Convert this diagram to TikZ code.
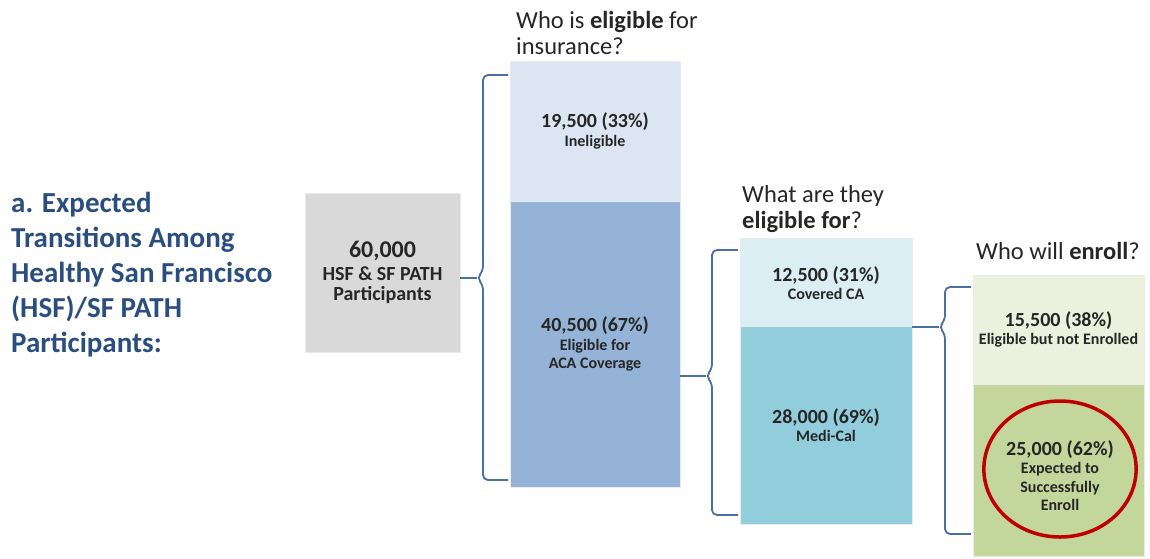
\documentclass[tikz,border=0pt]{standalone}
\usepackage{fontspec}
\setmainfont{Carlito}
\usetikzlibrary{calc,shapes.geometric}
\definecolor{titleblue}{HTML}{2A4E80}
\definecolor{txt}{HTML}{262626}
\definecolor{bracecol}{HTML}{4A6FA5}
\definecolor{grayfill}{HTML}{D9D9D9}
\definecolor{b1top}{HTML}{DCE6F2}
\definecolor{b1bot}{HTML}{95B3D7}
\definecolor{b2top}{HTML}{DAEEF3}
\definecolor{b2bot}{HTML}{92CDDC}
\definecolor{b3top}{HTML}{EBF1DE}
\definecolor{b3bot}{HTML}{C3D69B}
\definecolor{ringred}{HTML}{C00000}
\tikzset{
  box/.style={rectangle, draw=white!92!black, line width=0.8pt, inner sep=0pt, align=center, text=txt, font=\bfseries\fontsize{16}{18.5}\selectfont},
  brace/.style={draw=bracecol, line width=1.8pt, rounded corners=5pt},
  head/.style={anchor=north west, inner sep=0pt, align=left, text=black!85, font=\fontsize{24.5}{26}\selectfont},
}
\newcommand{\numf}{\fontsize{20}{18.5}\selectfont}
\newcommand{\subf}{\fontsize{16}{18.5}\selectfont}
\begin{document}
\begin{tikzpicture}[x=1pt,y=-1pt]
\useasboundingbox (0,0) rectangle (1150,558);
% title
\node[anchor=north west, inner sep=0pt, align=left, text=titleblue, font=\bfseries\fontsize{29}{35}\selectfont] (title) at (11,192)
  {a. Expected\\Transitions Among\\Healthy San Francisco\\(HSF)/SF PATH\\Participants:};
% boxes
\node[box, fill=grayfill, minimum width=155pt, minimum height=159pt, font=\bfseries\fontsize{20}{20}\selectfont] (gray) at (382.5,272.5)
  {{\fontsize{24}{20}\selectfont 60,000}\\[3pt]HSF \& SF PATH\\Participants};
\node[box, fill=b1top, minimum width=170pt, minimum height=140pt] (b1t) at (595,131)
  {\numf 19,500 (33\%)\\\subf Ineligible};
\node[box, fill=b1bot, minimum width=170pt, minimum height=286pt] (b1b) at (595,344)
  {\numf 40,500 (67\%)\\\subf Eligible for\\\subf ACA Coverage};
\node[box, fill=b2top, minimum width=172pt, minimum height=89pt] (b2t) at (826,283)
  {\numf 12,500 (31\%)\\\subf Covered CA};
\node[box, fill=b2bot, minimum width=172pt, minimum height=198pt] (b2b) at (826,425)
  {\numf 28,000 (69\%)\\\subf Medi-Cal};
\node[box, fill=b3top, minimum width=171pt, minimum height=109pt] (b3t) at (1058.5,329.5)
  {\numf 15,500 (38\%)\\\subf Eligible but not Enrolled};
\node[box, fill=b3bot, minimum width=171pt, minimum height=172pt] (b3b) at (1058.5,470) {};
\node[ellipse, draw=ringred, line width=3.5pt, minimum width=152pt, minimum height=136pt, inner sep=0pt, align=center, text=txt, font=\bfseries\fontsize{16}{18.5}\selectfont] (ring) at (1060,469)
  {\rule{0pt}{28pt}\numf 25,000 (62\%)\\\subf Expected to\\\subf Successfully\\\subf Enroll};
% headings
\node[head] (h1) at (516,11) {Who is \textbf{eligible} for\\insurance?};
\node[head] (h2) at (742,185) {What are they\\\textbf{eligible for}?};
\node[head] (h3) at (976,242) {Who will \textbf{enroll}?};
% braces
\coordinate (k1) at (483,278);
\coordinate (e1a) at (508,75);
\coordinate (e1b) at (508,480);
\draw[brace] (e1a) -- (k1 |- e1a) -- ($(k1)+(0,-7)$) -- ($(k1)+(-6,0)$) -- ($(k1)+(0,7)$) -- (k1 |- e1b) -- (e1b);
\draw[brace] (gray.east |- k1) -- ($(k1)+(-6,0)$);
\coordinate (k2) at (712,376);
\coordinate (e2a) at (738,250);
\coordinate (e2b) at (738,515);
\draw[brace] (e2a) -- (k2 |- e2a) -- ($(k2)+(0,-7)$) -- ($(k2)+(-6,0)$) -- ($(k2)+(0,7)$) -- (k2 |- e2b) -- (e2b);
\draw[brace] (b1b.east |- k2) -- ($(k2)+(-6,0)$);
\coordinate (k3) at (945,327);
\coordinate (e3a) at (971,287);
\coordinate (e3b) at (971,534);
\draw[brace] (e3a) -- (k3 |- e3a) -- ($(k3)+(0,-7)$) -- ($(k3)+(-6,0)$) -- ($(k3)+(0,7)$) -- (k3 |- e3b) -- (e3b);
\draw[brace] (b2b.north east |- k3) -- ($(k3)+(-6,0)$);
\end{tikzpicture}
\end{document}
